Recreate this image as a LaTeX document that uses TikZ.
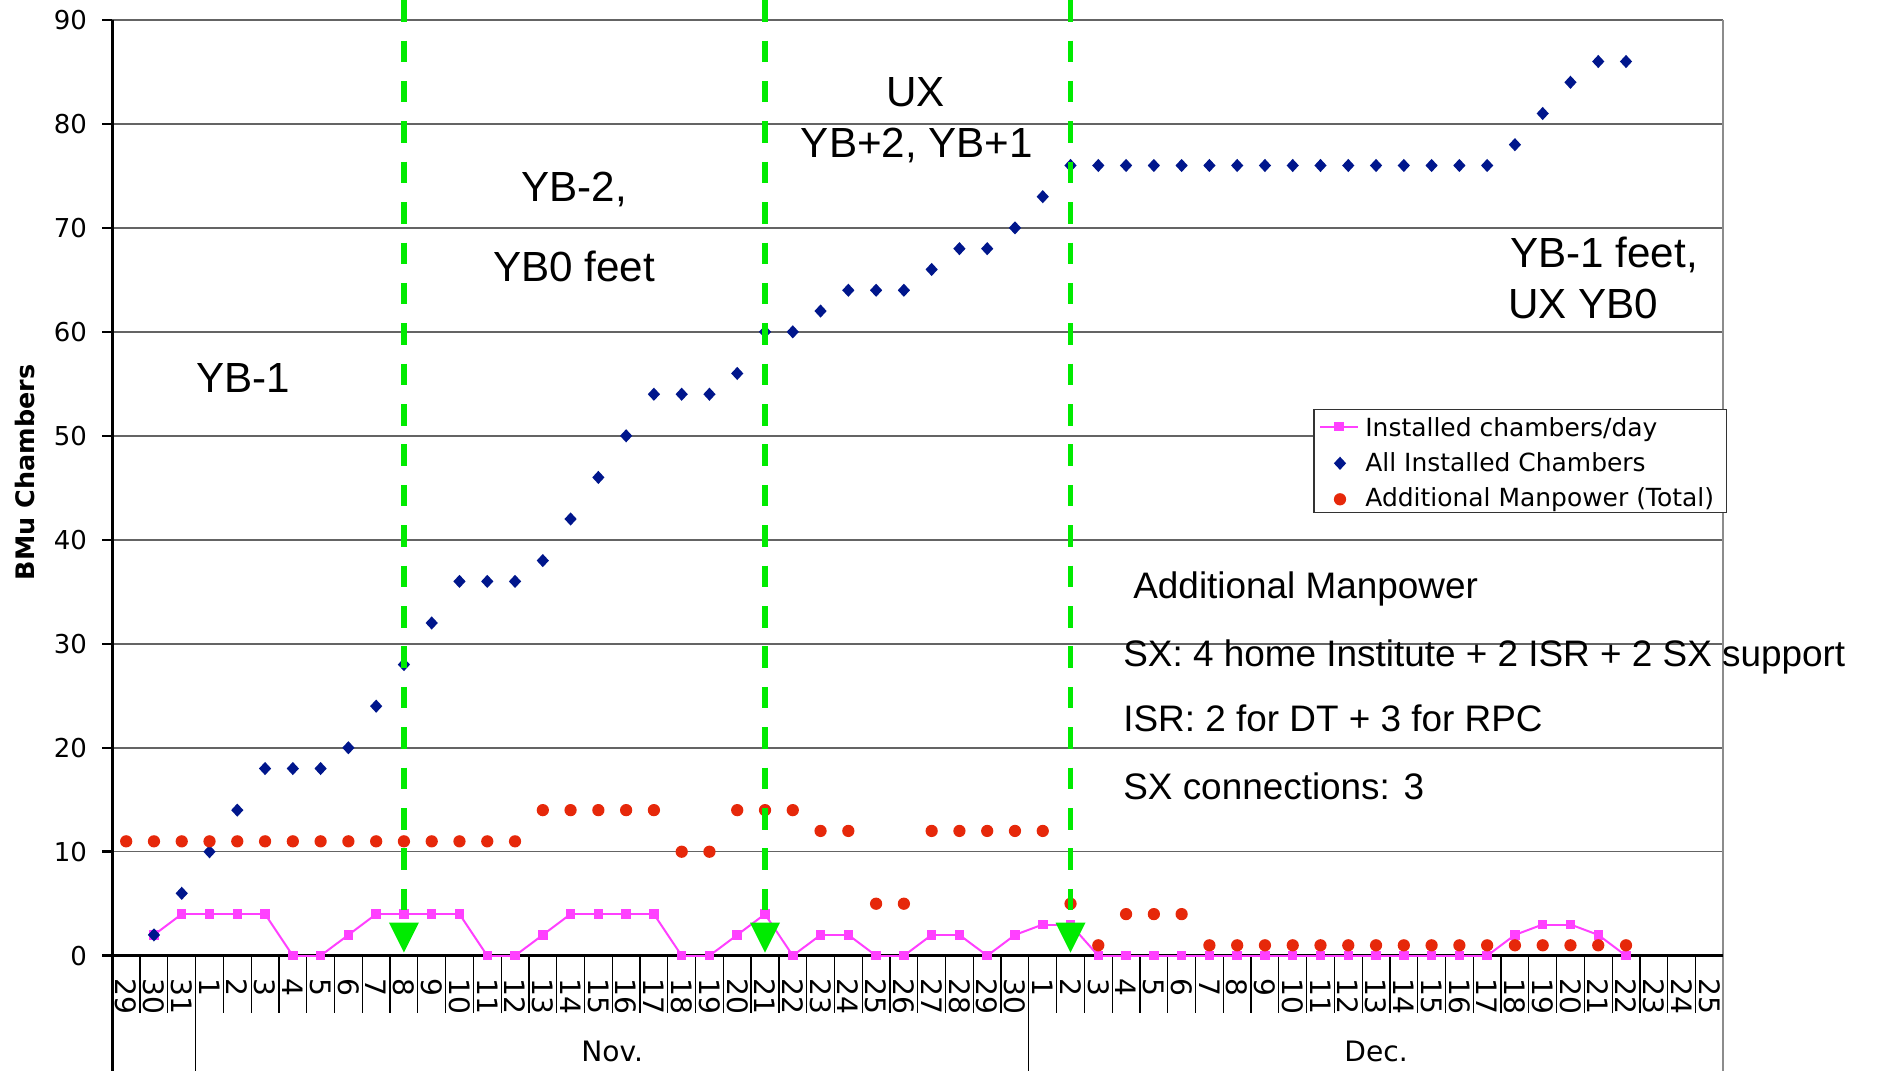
\documentclass[tikz,border=0pt]{standalone}
\usepackage{fontspec}
\setmainfont{Liberation Sans}
\newfontfamily\chartfont{DejaVu Sans}
\usetikzlibrary{shapes.geometric}

\definecolor{chamberblue}{RGB}{0,22,140}
\definecolor{dailypink}{RGB}{255,64,255}
\definecolor{manred}{RGB}{230,40,10}
\definecolor{stagegreen}{RGB}{0,235,0}
\definecolor{gridgray}{RGB}{100,100,100}

\begin{document}
\begin{tikzpicture}[x=0.02cm, y=-0.02cm,
  chamber/.style={diamond, fill=chamberblue, inner sep=0pt, minimum width=0.25cm, minimum height=0.27cm},
  daily/.style={rectangle, fill=dailypink, inner sep=0pt, minimum size=0.19cm},
  manpower/.style={circle, fill=manred, inner sep=0pt, minimum size=0.245cm},
  dailyline/.style={draw=dailypink, line width=0.04cm},
  stageline/.style={draw=stagegreen, line width=0.11cm, dash pattern=on 0.43cm off 0.378cm},
  tag/.style={inner sep=0pt, anchor=base, font=\fontsize{24}{28}\selectfont},
  note/.style={inner sep=0pt, anchor=base west, font=\fontsize{21}{25}\selectfont},
  ylabel/.style={inner sep=0pt, anchor=east, font=\chartfont\fontsize{14.8}{17}\selectfont},
  xlabel/.style={inner sep=0pt, anchor=west, rotate=-90, font=\chartfont\fontsize{16}{19}\selectfont},
  monthlabel/.style={inner sep=0pt, anchor=base, font=\chartfont\fontsize{16}{19}\selectfont},
  keytext/.style={inner sep=0pt, anchor=base west, font=\chartfont\fontsize{14.2}{17}\selectfont}]
\useasboundingbox (0,0) rectangle (1877,1071);

% Plot area, one unit per day and per chamber
\begin{scope}[shift={(112.3,955.7)}, x=0.5556cm, y=0.208cm]
  % Grid and axes
  \foreach \v in {10,20,...,90}
    \draw[gridgray, line width=0.03cm] (0,\v) -- (58,\v);
  \draw[black!45, line width=0.03cm] (58,90) -- (58,-11.09);
  \draw[line width=0.06cm] (0,90) -- (0,-11.09);
  \draw[line width=0.05cm] (0,0) -- (58,0);
  \foreach \v in {0,10,...,90} {
    \draw[line width=0.05cm] (0,\v) -- ++(-0.212cm,0);
    \node (y\v)[ylabel] at ([xshift=-0.5cm]0,\v) {\v};
  }
  % Day separators and labels
  \foreach \k in {1,2,4,5,...,32,34,35,...,57}
    \draw[line width=0.025cm] (\k,0) -- (\k,-5.48);
  \foreach \k in {3,33}
    \draw[line width=0.025cm] (\k,0) -- (\k,-11.09);
  \foreach \d [count=\k from 0] in {29,30,31}
    \node (oct\d)[xlabel] at (\k+0.5,-2.15) {\d};
  \foreach \d in {1,...,30}
    \node (nov\d)[xlabel] at (\d+2.5,-2.15) {\d};
  \foreach \d in {1,...,25}
    \node (dec\d)[xlabel] at (\d+32.5,-2.15) {\d};
  \node (nov)[monthlabel] at (18,-10.2) {Nov.};
  \node (dec)[monthlabel] at (45.5,-10.2) {Dec.};

  % Installed chambers per day
  \foreach \v [count=\k] in {2,4,4,4,4,0,0,2,4,4,4,4,0,0,2,4,4,4,4,0,0,2,4,0,2,2,0,0,2,2,0,2,3,3,
                              0,0,0,0,0,0,0,0,0,0,0,0,0,0,0,2,3,3,2,0}
    \coordinate (s\k) at (\k+0.5,\v);
  \foreach \k [remember=\k as \j (initially 1)] in {2,...,54}
    \draw[dailyline] (s\j) -- (s\k);
  \foreach \k in {1,...,54}
    \node (d\k)[daily] at (s\k) {};

  % All installed chambers
  \foreach \v [count=\k] in {2,6,10,14,18,18,18,20,24,28,32,36,36,36,38,42,46,50,54,54,54,56,60,60,62,64,64,64,66,68,68,70,73,76,
                              76,76,76,76,76,76,76,76,76,76,76,76,76,76,76,78,81,84,86,86}
    \node (c\k)[chamber] at (\k+0.5,\v) {};

  % Additional manpower
  \foreach \v [count=\k from 0] in {11,11,11,11,11,11,11,11,11,11,11,11,11,11,11,14,14,14,14,14,10,10,14,14,14,
                                     12,12,5,5,12,12,12,12,12,5,1,4,4,4,1,1,1,1,1,1,1,1,1,1,1,1,1,1,1,1}
    \node (m\k)[manpower] at (\k+0.5,\v) {};

  % Stage markers
  \foreach \i in {10,23,34} {
    \coordinate (stage\i) at (\i+0.5,91.9);
    \coordinate (drop\i) at (\i+0.5,4.3);
    \draw[stageline] (stage\i) -- (drop\i);
    \fill[stagegreen] (\i+0.5,0.3) -- ++(-0.3cm,0.6cm) -- ++(0.6cm,0) -- cycle;
  }
\end{scope}

% Axis title
\node (ytitle)[rotate=90, inner sep=0pt, font=\chartfont\bfseries\fontsize{14.5}{17}\selectfont] at (25.5,472.5) {BMu Chambers};

% Stage names
\node (yb1)[tag] at (243.5,392) {YB-1};
\node (yb2)[tag] at (574,202) {YB-2,};
\node (yb0)[tag] at (574,282) {YB0 feet};
\node (ux)[tag] at (915.5,107) {UX};
\node (ybp)[tag] at (917,158) {YB+2, YB+1};
\node (ybf)[tag, anchor=base west] at (1510,268) {YB-1 feet,};
\node (uxyb)[tag, anchor=base west] at (1508,318) {UX YB0};

% Legend
\node (legend)[draw=black!80, line width=0.03cm, fill=white, inner sep=0pt,
               minimum width=8.254cm, minimum height=2.068cm] at (1520.35,461) {};
\draw[dailyline] (1320,426.7) -- (1358,426.7);
\node (k1)[daily] at (1339,426.7) {};
\node (k2)[chamber] at (1340,463.3) {};
\node (k3)[manpower] at (1340,499.3) {};
\node (t1)[keytext] at (1365,436) {Installed chambers/day};
\node (t2)[keytext] at (1365,471.7) {All Installed Chambers};
\node (t3)[keytext] at (1365,506.7) {Additional Manpower (Total)};

% Manpower notes
\node (n1)[note] at (1133,598) {Additional Manpower};
\node (n2)[note] at (1123,666) {SX: 4 home Institute + 2 ISR + 2 SX support};
\node (n3)[note] at (1123,731) {ISR: 2 for DT + 3 for RPC};
\node (n4)[note] at (1123,799) {SX connections: 3};
\end{tikzpicture}
\end{document}
